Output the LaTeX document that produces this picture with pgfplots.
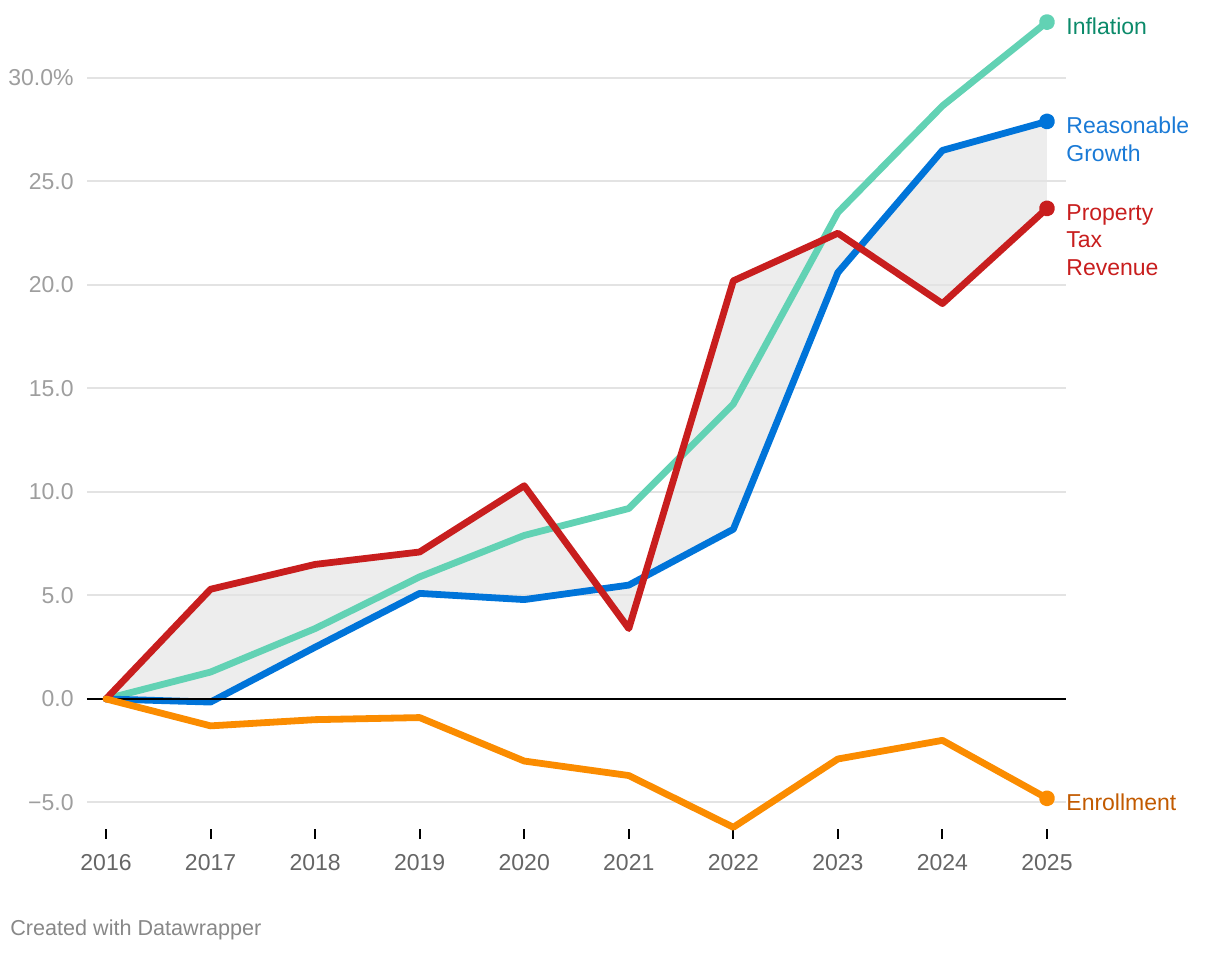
\documentclass[border=0pt]{standalone}
\usepackage{fontspec}
\setmainfont{Liberation Sans}
\usepackage{pgfplots}
\pgfplotsset{compat=1.18}

\definecolor{cInfl}{HTML}{62D2B4}
\definecolor{cInflTxt}{HTML}{0B8A6A}
\definecolor{cGrow}{HTML}{0074D9}
\definecolor{cGrowTxt}{HTML}{1A7AD6}
\definecolor{cTax}{HTML}{C81E1E}
\definecolor{cEnrl}{HTML}{FB8C00}
\definecolor{cEnrlTxt}{HTML}{C25A00}
\definecolor{cGrid}{HTML}{E3E3E3}
\definecolor{cArea}{HTML}{EDEDED}
\definecolor{cYlab}{HTML}{9E9E9E}
\definecolor{cXlab}{HTML}{666666}
\definecolor{cSrc}{HTML}{888888}

\begin{document}
\begin{tikzpicture}
\path[use as bounding box] (-43.5pt,-60.25pt) rectangle (566.5pt,416.75pt);
\begin{axis}[
    at={(0,0)}, anchor=south west,
    width=489.5pt, height=406.75pt, scale only axis,
    xmin=-0.182, xmax=9.182,
    ymin=-6.5, ymax=32.8,
    clip=false,
    axis line style={draw=none},
    xtick={0,...,9},
    xticklabels={2016,2017,2018,2019,2020,2021,2022,2023,2024,2025},
    ytick={-5,0,5,10,15,20,25,30},
    yticklabels={−5.0,0.0,5.0,10.0,15.0,20.0,25.0,30.0\%},
    xtick pos=left, ytick pos=left,
    tick align=center,
    major tick length=5pt,
    xtick style={black, line width=1pt},
    ytick style={draw=none},
    xticklabel style={anchor=north, inner sep=0pt, yshift=-8pt, text=cXlab,
        font=\fontsize{11.5}{13.5}\selectfont},
    yticklabel style={anchor=east, inner sep=0pt, xshift=-4pt, text=cYlab,
        font=\fontsize{11.5}{13.5}\selectfont},
    every axis plot/.append style={line width=3.4pt, line cap=round, line join=round},
    mark size=2.3pt,
]

% shaded band between property tax revenue and reasonable growth
\addplot[fill=cArea, draw=none, line width=0pt] coordinates {
    (0,0) (1,5.3) (2,6.5) (3,7.1) (4,10.3)
    (5,3.4) (6,20.2) (7,22.5) (8,19.1) (9,23.7)
    (9,27.9) (8,26.5) (7,20.6) (6,8.2) (5,5.5)
    (4,4.8) (3,5.1) (2,2.5) (1,-0.15) (0,0)
} --cycle;

% gridlines over the band
\pgfplotsinvokeforeach{-5,5,10,15,20,25,30}{
    \draw[cGrid, line width=1pt] (axis cs:-0.182,#1) -- (axis cs:9.182,#1);
}

% inflation
\addplot[cInfl, mark=*, mark indices={10},
    mark options={draw=none, fill=cInfl}] coordinates {
    (0,0) (1,1.3) (2,3.4) (3,5.9) (4,7.9)
    (5,9.2) (6,14.25) (7,23.5) (8,28.65) (9,32.7)
};

% reasonable growth
\addplot[cGrow, mark=*, mark indices={10},
    mark options={draw=none, fill=cGrow}] coordinates {
    (0,0) (1,-0.15) (2,2.5) (3,5.1) (4,4.8)
    (5,5.5) (6,8.2) (7,20.6) (8,26.5) (9,27.9)
};

\draw[black, line width=0.75pt] (axis cs:-0.182,0) -- (axis cs:9.182,0);

% property tax revenue
\addplot[cTax, mark=*, mark indices={10},
    mark options={draw=none, fill=cTax}] coordinates {
    (0,0) (1,5.3) (2,6.5) (3,7.1) (4,10.3)
    (5,3.4) (6,20.2) (7,22.5) (8,19.1) (9,23.7)
};

% enrollment
\addplot[cEnrl, mark=*, mark indices={10},
    mark options={draw=none, fill=cEnrl}] coordinates {
    (0,0) (1,-1.3) (2,-1.0) (3,-0.9) (4,-3.0)
    (5,-3.7) (6,-6.2) (7,-2.9) (8,-2.0) (9,-4.8)
};

\begin{scope}[every node/.style={anchor=west, inner sep=0pt, align=left,
        font=\fontsize{11.5}{13.75}\selectfont}]
\node[text=cInflTxt] at (axis cs:9.182,32.5) {Inflation};
\node[text=cGrowTxt] at (axis cs:9.182,27.03) {Reasonable\\Growth};
\node[text=cTax] at (axis cs:9.182,22.17) {Property\\Tax\\Revenue};
\node[text=cEnrlTxt] at (axis cs:9.182,-4.98) {Enrollment};
\end{scope}
\end{axis}
\node[anchor=west, inner sep=0pt, text=cSrc, font=\fontsize{10.8}{12}\selectfont]
    at (-38.5pt,-48.25pt) {Created with Datawrapper};
\end{tikzpicture}
\end{document}
